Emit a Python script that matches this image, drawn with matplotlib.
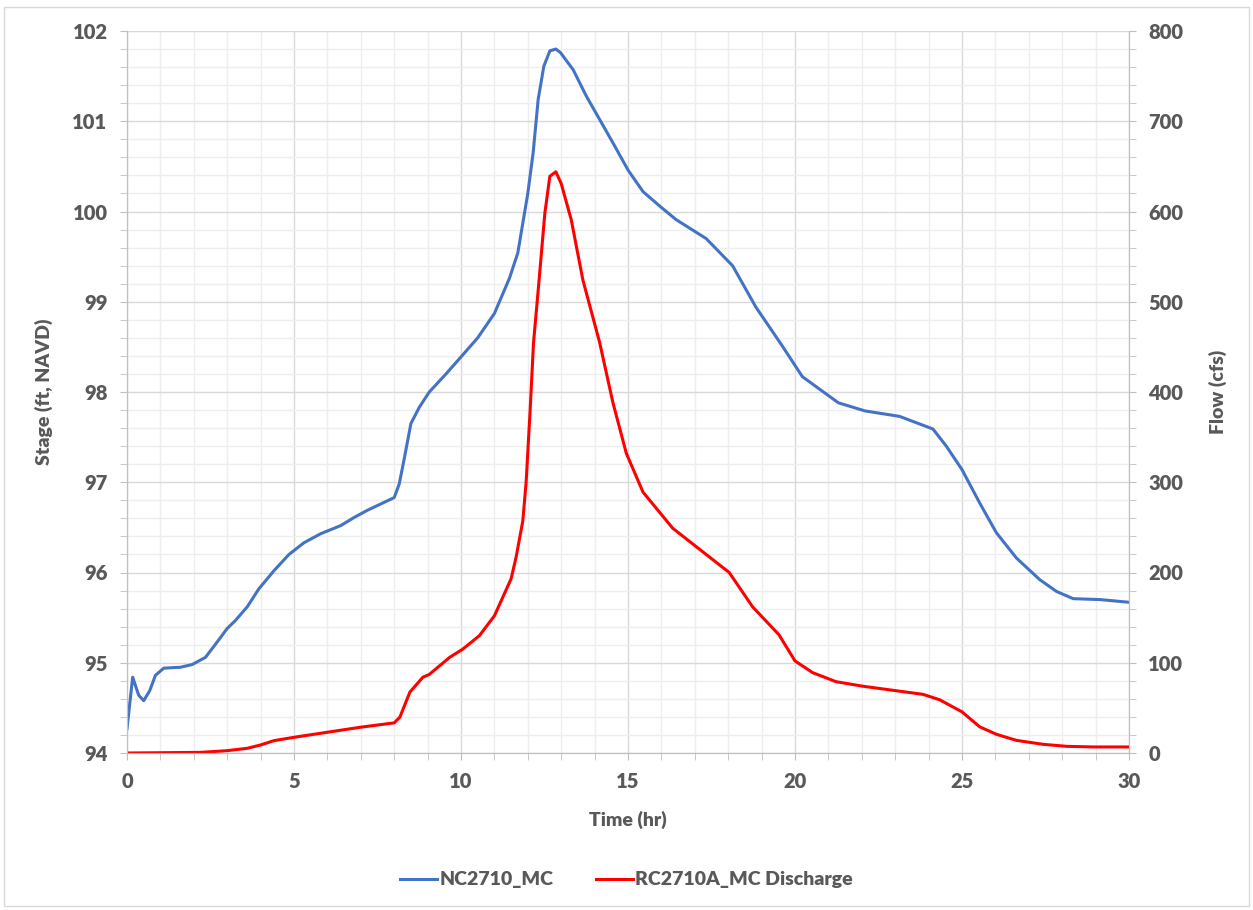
import matplotlib
matplotlib.use("Agg")
import matplotlib.pyplot as plt
from matplotlib.patches import Rectangle
from matplotlib.ticker import MultipleLocator

# stage at NC2710_MC (ft, NAVD)
stage_t = [0, 0.17, 0.35, 0.5, 0.68, 0.85, 1.1, 1.6, 1.95, 2.35, 2.7, 3.0, 3.25, 3.6,
           3.95, 4.4, 4.85, 5.3, 5.8, 6.4, 6.8, 7.2, 7.6, 8.0, 8.15, 8.3, 8.5, 8.75,
           9.05, 9.55, 10.05, 10.5, 11.0, 11.45, 11.7, 12.0, 12.16, 12.31, 12.48,
           12.66, 12.84, 12.98, 13.36, 13.75, 14.15, 14.55, 15.0, 15.45, 15.95, 16.44,
           17.34, 18.13, 18.83, 19.62, 20.22, 21.3, 22.1, 23.13, 24.13, 24.53, 25.0,
           25.53, 26.03, 26.63, 27.33, 27.83, 28.33, 29.13, 30.0]
stage = [94.27, 94.84, 94.64, 94.58, 94.69, 94.86, 94.94, 94.95, 94.98, 95.06, 95.23,
         95.38, 95.47, 95.62, 95.82, 96.02, 96.2, 96.33, 96.43, 96.52, 96.61, 96.69,
         96.76, 96.83, 96.98, 97.26, 97.65, 97.83, 98.0, 98.2, 98.41, 98.6, 98.87,
         99.26, 99.54, 100.2, 100.65, 101.24, 101.61, 101.78, 101.8, 101.76, 101.57,
         101.28, 101.02, 100.76, 100.46, 100.22, 100.06, 99.91, 99.70, 99.40, 98.94,
         98.51, 98.17, 97.88, 97.79, 97.73, 97.59, 97.40, 97.14, 96.77, 96.44, 96.16,
         95.92, 95.79, 95.71, 95.70, 95.67]

# discharge at RC2710A_MC (cfs)
flow_t = [0, 1, 2.2, 3.0, 3.6, 4.0, 4.4, 5.0, 6.0, 7.0, 8.0, 8.17, 8.47, 8.86, 9.05,
          9.66, 10.05, 10.55, 11.0, 11.5, 11.65, 11.85, 11.95, 12.07, 12.17, 12.34,
          12.51, 12.66, 12.84, 13.0, 13.3, 13.65, 14.15, 14.55, 14.95, 15.45, 16.34,
          17.34, 18.03, 18.73, 19.52, 20.0, 20.53, 21.23, 22.03, 22.83, 23.83, 24.33,
          25.0, 25.53, 26.03, 26.63, 27.43, 28.13, 28.93, 30.0]
flow = [0, 0.3, 0.7, 2.6, 5.2, 8.9, 13.7, 17.4, 23, 28.6, 33.4, 39.7, 67.5, 84, 87,
        106, 115, 130, 152, 193, 217, 257, 300, 380, 454, 525, 598, 639, 644, 631,
        591, 524, 455, 388, 332, 289, 249, 220, 200, 162, 131, 102, 89, 79, 74, 70,
        65, 59, 45.6, 29, 20.7, 14, 9.6, 7.4, 6.7, 6.7]

txt = "#595959"
W = 'heavy'
plt.rcParams['font.family'] = ['Lato', 'DejaVu Sans']
plt.rcParams['font.weight'] = W

fig = plt.figure(figsize=(12.53, 9.10), dpi=100)
ax = fig.add_axes([127/1253, 157/910, 1002/1253, 722/910])
ax2 = ax.twinx()

l1, = ax.plot(stage_t, stage, color="#4472C4", lw=2.2, label="NC2710_MC",
              solid_joinstyle='round')
l2, = ax2.plot(flow_t, flow, color="#FF0000", lw=2.2, label="RC2710A_MC Discharge",
               solid_joinstyle='round')

ax.set_xlim(0, 30)
ax.set_ylim(94, 102)
ax2.set_ylim(0, 800)

ax.xaxis.set_major_locator(MultipleLocator(5))
ax.xaxis.set_minor_locator(MultipleLocator(1))
ax.yaxis.set_major_locator(MultipleLocator(1))
ax.yaxis.set_minor_locator(MultipleLocator(0.2))
ax2.yaxis.set_major_locator(MultipleLocator(100))
ax2.yaxis.set_minor_locator(MultipleLocator(20))

ax.grid(which='major', color="#D9D9D9", lw=1.0)
ax.grid(which='minor', color="#EEEEEE", lw=1.0)
ax.set_axisbelow(True)

for a in (ax, ax2):
    for s in a.spines.values():
        s.set_color("#BFBFBF")
    a.spines['top'].set_visible(False)
    a.tick_params(which='both', colors="#BFBFBF", labelcolor=txt, labelsize=14.5,
                  length=5, pad=9)
    for lbl in a.get_xticklabels() + a.get_yticklabels():
        lbl.set_fontweight(W)

ax.set_xlabel("Time (hr)", fontsize=14, color=txt, fontweight=W, labelpad=14)
ax.set_ylabel("Stage (ft, NAVD)", fontsize=14, color=txt, fontweight=W, labelpad=14)
ax2.set_ylabel("Flow (cfs)", fontsize=14, color=txt, fontweight=W, labelpad=18)

fig.legend(handles=[l1, l2], loc='center', bbox_to_anchor=(0.5, 30/910), ncol=2,
           frameon=False, prop={'size': 14, 'weight': W}, labelcolor=txt,
           handlelength=1.9, handletextpad=0.1, columnspacing=2.2)

fig.patches.append(Rectangle((4/1253, 4/910), 1245/1253, 899/910, transform=fig.transFigure,
                             fill=False, edgecolor="#D9D9D9", lw=1))

fig.savefig("out.png", dpi=100)
